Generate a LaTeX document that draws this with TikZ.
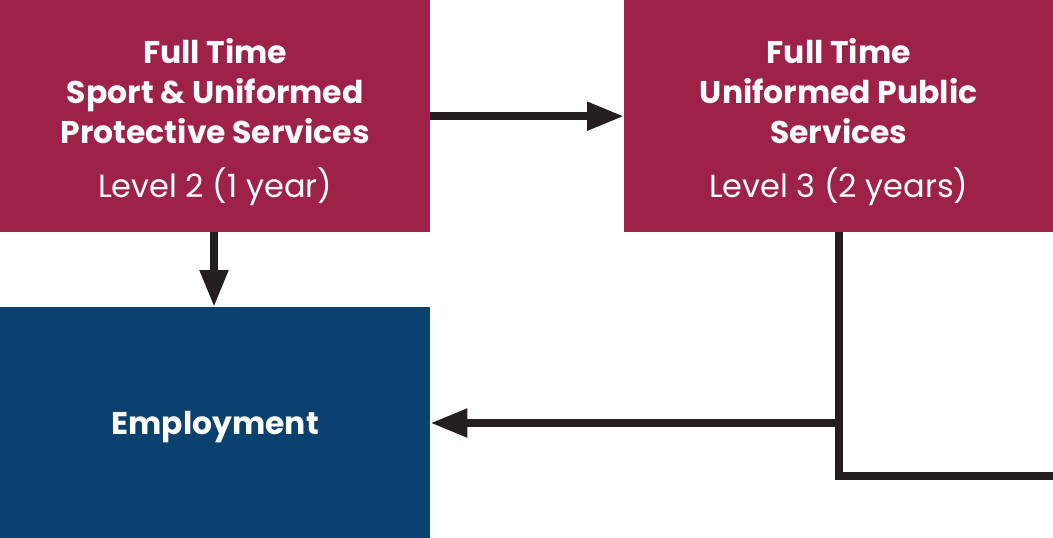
\documentclass[tikz,border=0pt]{standalone}
\usepackage{fontspec}
\setmainfont{Poppins}
\usetikzlibrary{arrows.meta}
\definecolor{boxred}{HTML}{9E2248}
\definecolor{boxblue}{HTML}{0A416E}
\definecolor{ink}{HTML}{231F20}
\newcommand\lvlfont{\mdseries\fontsize{32pt}{40pt}\selectfont}
\begin{document}
\begin{tikzpicture}[x=1pt,y=-1pt,
  box/.style={rectangle, inner sep=0pt, anchor=north west},
  txt/.style={inner sep=0pt, text=white, align=center,
    font=\fontsize{31.4pt}{40pt}\selectfont\bfseries},
  flow/.style={draw=ink, line width=8pt, -{Triangle[length=37pt,width=27pt]}},
  plain/.style={draw=ink, line width=8pt}]
\useasboundingbox (0,0) rectangle (1053,538);
\node[box, fill=boxred, minimum width=430pt, minimum height=232pt] (l2) at (0,0) {};
\node[box, fill=boxred, minimum width=429pt, minimum height=232pt] (l3) at (624,0) {};
\node[box, fill=boxblue, minimum width=430pt, minimum height=231pt] (emp) at (0,307) {};
\node[txt] (l2t) at ([yshift=-6pt]l2.center)
  {Full Time\\Sport \& Uniformed\\Protective Services\\[14pt]{\lvlfont Level 2 (1 year)}};
\node[txt] (l3t) at ([yshift=-6pt]l3.center)
  {Full Time\\Uniformed Public\\Services\\[14pt]{\lvlfont Level 3 (2 years)}};
\node[txt] (empt) at ([yshift=-4pt]emp.center) {Employment};
\coordinate (j) at (839,423);
\coordinate (c) at (839,476);
\coordinate (e) at (1053,476);
\draw[flow] (l2.east) -- (l3.west);
\draw[flow] (l2.south -| 214,0) -- (emp.north -| 214,0);
\draw[plain] (l3.south -| 839,0) -- (c) -- (e);
\draw[flow] (j) -- (j -| emp.east);
\end{tikzpicture}
\end{document}
